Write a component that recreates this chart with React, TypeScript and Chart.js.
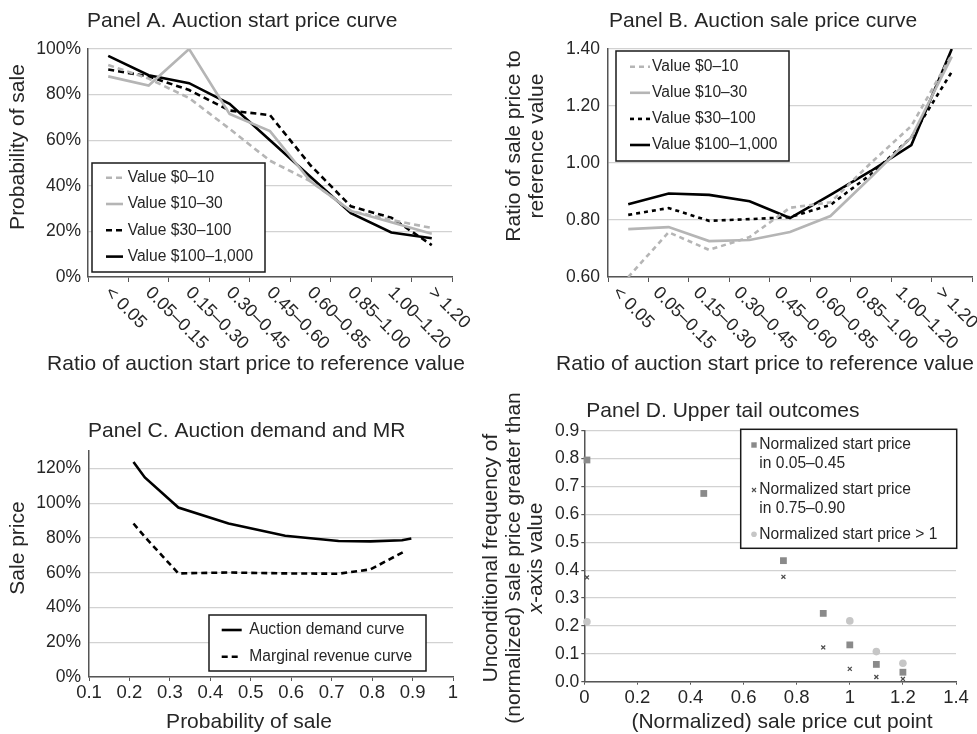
import React, { useEffect, useRef } from 'react';
import { Chart, registerables } from 'chart.js';
Chart.register(...registerables);

const FONT = '"Liberation Sans", Arial, Helvetica, sans-serif';
Chart.defaults.font.family = FONT;
const TEXT = '#262626';
const GRID = '#d2d2d2';
const AXIS = '#555555';
const GRAY = '#b5b5b5';
const BLACK = '#000000';
const TICK_PX = 17.5;
const XTICK_PX = 18.5;
const CAT_PX = 18;
const TITLE_PX = 21;
const LEGEND_PX = 15.6;

// ---------------- data ----------------
const startPriceBins = ['< 0.05', '0.05–0.15', '0.15–0.30', '0.30–0.45', '0.45–0.60', '0.60–0.85', '0.85–1.00', '1.00–1.20', '> 1.20'];
const valueGroups = ['Value $0–10', 'Value $10–30', 'Value $30–100', 'Value $100–1,000'];

// Panel A: probability of sale (%)
const probSale0to10 = [93, 87, 78.5, 65, 51, 42, 29, 25, 21.5];
const probSale10to30 = [88, 84, 100, 71.5, 64, 42, 29, 24, 19];
const probSale30to100 = [91, 88, 82, 73, 71, 49, 31, 26, 14];
const probSale100to1000 = [97, 88.5, 85, 76, 60, 44, 28, 19.5, 17];

// Panel B: ratio of sale price to reference value
const priceRatio0to10 = [0.6, 0.757, 0.695, 0.74, 0.843, 0.862, 1.0, 1.13, 1.38];
const priceRatio10to30 = [0.768, 0.775, 0.726, 0.73, 0.758, 0.814, 0.95, 1.09, 1.373];
const priceRatio30to100 = [0.818, 0.842, 0.797, 0.803, 0.81, 0.853, 0.96, 1.09, 1.32];
const priceRatio100to1000 = [0.855, 0.893, 0.888, 0.866, 0.807, 0.888, 0.972, 1.063, 1.4];

// Panel C: demand and marginal revenue
const demandProb = [0.21, 0.238, 0.321, 0.445, 0.585, 0.717, 0.796, 0.874, 0.897];
const demandPrice = [123.7, 114.8, 97.5, 88.3, 81.2, 78.2, 78.0, 78.7, 79.7];
const mrProb = [0.21, 0.238, 0.321, 0.445, 0.585, 0.717, 0.796, 0.878];
const mrPrice = [88.3, 80.6, 59.6, 60.1, 59.6, 59.4, 61.9, 72.0];
const cNames = ['Auction demand curve', 'Marginal revenue curve'];
const cYTicks = [0, 20, 40, 60, 80, 100, 120];

// Panel D: upper tail outcomes
const dNames = [
  ['Normalized start price', 'in 0.05–0.45'],
  ['Normalized start price', 'in 0.75–0.90'],
  ['Normalized start price > 1'],
];
const cutLow = [0.01, 0.45, 0.75, 0.9, 1.0, 1.1, 1.2];
const freqLow = [0.795, 0.675, 0.434, 0.245, 0.132, 0.062, 0.034];
const cutMid = [0.01, 0.75, 0.9, 1.0, 1.1, 1.2];
const freqMid = [0.374, 0.376, 0.123, 0.046, 0.017, 0.01];
const cutHigh = [0.01, 1.0, 1.1, 1.2];
const freqHigh = [0.215, 0.218, 0.108, 0.066];

// ---------------- helpers ----------------
const fnt = (px: number, italic = false) => `${italic ? 'italic ' : ''}${px}px ${FONT}`;

function txt(ctx: CanvasRenderingContext2D, s: string, x: number, y: number, o: any = {}) {
  ctx.save();
  ctx.translate(x, y);
  if (o.rot) ctx.rotate(o.rot);
  ctx.font = fnt(o.px || TITLE_PX, o.italic);
  ctx.fillStyle = o.color || TEXT;
  ctx.textAlign = o.align || 'left';
  ctx.textBaseline = o.baseline || 'alphabetic';
  ctx.fillText(s, 0, 0);
  ctx.restore();
}

function vText(ctx: CanvasRenderingContext2D, segs: { t: string; italic?: boolean }[], cx: number, cy: number, px = TITLE_PX) {
  ctx.save();
  ctx.translate(cx, cy);
  ctx.rotate(-Math.PI / 2);
  let w = 0;
  segs.forEach((s) => { ctx.font = fnt(px, s.italic); w += ctx.measureText(s.t).width; });
  let x = -w / 2;
  ctx.fillStyle = TEXT;
  ctx.textBaseline = 'middle';
  ctx.textAlign = 'left';
  segs.forEach((s) => { ctx.font = fnt(px, s.italic); ctx.fillText(s.t, x, 0); x += ctx.measureText(s.t).width; });
  ctx.restore();
}

function legendBox(ctx: CanvasRenderingContext2D, x: number, y: number, w: number, h: number) {
  ctx.save();
  ctx.fillStyle = '#ffffff';
  ctx.fillRect(x, y, w, h);
  ctx.strokeStyle = '#1a1a1a';
  ctx.lineWidth = 1.5;
  ctx.strokeRect(x, y, w, h);
  ctx.restore();
}

function lineLegend(ctx: CanvasRenderingContext2D, chart: any, box: number[], sx0: number, sx1: number, tx: number, y0: number, dy: number) {
  legendBox(ctx, box[0], box[1], box[2], box[3]);
  chart.data.datasets.forEach((ds: any, i: number) => {
    const y = y0 + i * dy;
    ctx.save();
    ctx.strokeStyle = ds.borderColor;
    ctx.lineWidth = ds.borderWidth;
    ctx.setLineDash(ds.borderDash || []);
    ctx.beginPath();
    ctx.moveTo(sx0, y);
    ctx.lineTo(sx1, y);
    ctx.stroke();
    ctx.restore();
    txt(ctx, ds.label, tx, y, { px: LEGEND_PX, baseline: 'middle' });
  });
}

type Panel = { left: number; top: number; w: number; h: number; area: number[] };

function layoutOpts(p: Panel) {
  const [L, T, R, B] = p.area;
  return {
    padding: { left: 0, top: T - p.top, right: p.left + p.w - R, bottom: 0 },
    yWidth: L - p.left,
    xHeight: p.top + p.h - B,
  };
}

function decor(p: Panel, draw: (ctx: CanvasRenderingContext2D, chart: any) => void) {
  return {
    id: 'decor',
    afterDraw(chart: any) {
      const ctx = chart.ctx;
      ctx.save();
      ctx.translate(-p.left, -p.top);
      draw(ctx, chart);
      ctx.restore();
    },
  };
}

const lineDs = (label: string, data: any[], color: string, dash: number[]) => ({
  label, data, borderColor: color, backgroundColor: color, borderDash: dash, borderWidth: 2.6,
  pointRadius: 0, fill: false, tension: 0,
});

const baseOpts = (lay: any) => ({
  responsive: false,
  maintainAspectRatio: false,
  animation: false,
  events: [],
  layout: { padding: lay.padding },
  plugins: { legend: { display: false }, title: { display: false }, tooltip: { enabled: false } },
});

const tickFont = { family: FONT, size: TICK_PX };
const xTickFont = { family: FONT, size: XTICK_PX };

// ---------------- panels ----------------
const PA: Panel = { left: 0, top: 0, w: 490, h: 380, area: [88, 49, 452, 277] };
const PB: Panel = { left: 490, top: 0, w: 487, h: 380, area: [608, 49, 972, 277] };
const PC: Panel = { left: 0, top: 380, w: 470, h: 354, area: [89, 451, 453, 677] };
const PD: Panel = { left: 470, top: 380, w: 507, h: 354, area: [584.3, 430.7, 956, 681.7] };

function catLabels(ctx: CanvasRenderingContext2D, chart: any, p: Panel, dx: number) {
  const xs = chart.scales.x;
  startPriceBins.forEach((lab, i) => {
    const px = xs.getPixelForValue(i) + p.left;
    txt(ctx, lab, px + dx, chart.chartArea.bottom + p.top + 13, { px: CAT_PX, rot: Math.PI / 4, baseline: 'middle' });
  });
}

function configA() {
  const lay = layoutOpts(PA);
  return {
    type: 'line',
    data: {
      labels: startPriceBins,
      datasets: [
        lineDs(valueGroups[0], probSale0to10, GRAY, [6, 4]),
        lineDs(valueGroups[1], probSale10to30, GRAY, []),
        lineDs(valueGroups[2], probSale30to100, BLACK, [6, 4]),
        lineDs(valueGroups[3], probSale100to1000, BLACK, []),
      ],
    },
    options: {
      ...baseOpts(lay),
      scales: {
        x: {
          type: 'category', offset: true,
          grid: { display: true, drawOnChartArea: false, drawTicks: true, tickLength: 5, color: AXIS, offset: true },
          border: { color: AXIS, width: 1.5 },
          ticks: { display: false },
          afterFit: (s: any) => { s.height = lay.xHeight; },
        },
        y: {
          min: 0, max: 100,
          ticks: { stepSize: 20, callback: (v: any) => v + '%', padding: 7, font: tickFont, color: TEXT },
          grid: { color: GRID, lineWidth: 1.2, drawTicks: false },
          border: { color: AXIS, width: 1.5 },
          afterFit: (s: any) => { s.width = lay.yWidth; },
        },
      },
    },
    plugins: [decor(PA, (ctx, chart) => {
      const ca = chart.chartArea;
      txt(ctx, 'Panel A. Auction start price curve', ca.left - 1, 27);
      catLabels(ctx, chart, PA, -0.5);
      vText(ctx, [{ t: 'Probability of sale' }], 18.5, 147);
      txt(ctx, 'Ratio of auction start price to reference value', 256, 370, { align: 'center' });
      lineLegend(ctx, chart, [92, 163, 173, 109], 106, 123, 127.7, 177.7, 26.3);
    })],
  };
}

function configB() {
  const lay = layoutOpts(PB);
  return {
    type: 'line',
    data: {
      labels: startPriceBins,
      datasets: [
        lineDs(valueGroups[0], priceRatio0to10, GRAY, [5, 4]),
        lineDs(valueGroups[1], priceRatio10to30, GRAY, []),
        lineDs(valueGroups[2], priceRatio30to100, BLACK, [4, 4]),
        lineDs(valueGroups[3], priceRatio100to1000, BLACK, []),
      ],
    },
    options: {
      ...baseOpts(lay),
      scales: {
        x: {
          type: 'category', offset: true,
          grid: { display: true, drawOnChartArea: false, drawTicks: true, tickLength: 5, color: AXIS, offset: true },
          border: { color: AXIS, width: 1.5 },
          ticks: { display: false },
          afterFit: (s: any) => { s.height = lay.xHeight; },
        },
        y: {
          min: 0.6, max: 1.4,
          ticks: { stepSize: 0.2, callback: (v: any) => Number(v).toFixed(2), padding: 8, font: tickFont, color: TEXT },
          grid: { color: GRID, lineWidth: 1.2, drawTicks: false },
          border: { color: AXIS, width: 1.5 },
          afterFit: (s: any) => { s.width = lay.yWidth; },
        },
      },
    },
    plugins: [decor(PB, (ctx, chart) => {
      const ca = chart.chartArea;
      txt(ctx, 'Panel B. Auction sale price curve', ca.left + PB.left + 1, 27);
      catLabels(ctx, chart, PB, -13);
      vText(ctx, [{ t: 'Ratio of sale price to' }], 514, 146);
      vText(ctx, [{ t: 'reference value' }], 537, 146);
      txt(ctx, 'Ratio of auction start price to reference value', 765, 370, { align: 'center' });
      lineLegend(ctx, chart, [616, 51, 173, 110], 630, 650, 652, 66.7, 26.1);
    })],
  };
}

const roundLabel = (v: any) => String(Math.round(Number(v) * 10) / 10);

function configC() {
  const lay = layoutOpts(PC);
  return {
    type: 'line',
    data: {
      datasets: [
        lineDs(cNames[0], demandProb.map((x, i) => ({ x, y: demandPrice[i] })), BLACK, []),
        lineDs(cNames[1], mrProb.map((x, i) => ({ x, y: mrPrice[i] })), BLACK, [6, 4]),
      ],
    },
    options: {
      ...baseOpts(lay),
      scales: {
        x: {
          type: 'linear', min: 0.1, max: 1,
          ticks: { stepSize: 0.1, callback: roundLabel, padding: 1, font: xTickFont, color: TEXT, maxRotation: 0 },
          grid: { display: true, drawOnChartArea: false, drawTicks: true, tickLength: 4, color: AXIS },
          border: { color: AXIS, width: 1.5 },
          afterFit: (s: any) => { s.height = lay.xHeight; },
        },
        y: {
          min: 0, max: 130, bounds: 'data',
          afterBuildTicks: (s: any) => { s.ticks = cYTicks.map((v) => ({ value: v })); },
          ticks: { callback: (v: any) => v + '%', padding: 8, font: tickFont, color: TEXT },
          grid: { color: GRID, lineWidth: 1.2, drawTicks: false },
          border: { color: AXIS, width: 1.5 },
          afterFit: (s: any) => { s.width = lay.yWidth; },
        },
      },
    },
    plugins: [decor(PC, (ctx, chart) => {
      const ca = chart.chartArea;
      txt(ctx, 'Panel C. Auction demand and MR', ca.left + PC.left - 1, 437);
      vText(ctx, [{ t: 'Sale price' }], 18, 548);
      txt(ctx, 'Probability of sale', 249, 728, { align: 'center' });
      lineLegend(ctx, chart, [209, 615, 217, 56], 221.7, 241.7, 249.3, 630, 26.7);
    })],
  };
}

function drawMarker(ctx: CanvasRenderingContext2D, kind: string, x: number, y: number, color: string) {
  ctx.save();
  ctx.fillStyle = color;
  ctx.strokeStyle = color;
  if (kind === 'rect') {
    ctx.fillRect(x - 2.7, y - 2.7, 5.4, 5.4);
  } else if (kind === 'crossRot') {
    ctx.lineWidth = 1.1;
    ctx.beginPath();
    ctx.moveTo(x - 2, y - 2); ctx.lineTo(x + 2, y + 2);
    ctx.moveTo(x + 2, y - 2); ctx.lineTo(x - 2, y + 2);
    ctx.stroke();
  } else {
    ctx.beginPath();
    ctx.arc(x, y, 2.8, 0, Math.PI * 2);
    ctx.fill();
  }
  ctx.restore();
}

function configD() {
  const lay = layoutOpts(PD);
  const sq = '#8a8a8a', cr = '#4d4d4d', ci = '#c6c6c6';
  return {
    type: 'scatter',
    data: {
      datasets: [
        { label: dNames[0].join(' '), data: cutLow.map((x, i) => ({ x, y: freqLow[i] })), pointStyle: 'rect', pointRadius: 4.8, backgroundColor: sq, borderColor: sq, borderWidth: 0, clip: false },
        { label: dNames[1].join(' '), data: cutMid.map((x, i) => ({ x, y: freqMid[i] })), pointStyle: 'crossRot', pointRadius: 2.8, backgroundColor: cr, borderColor: cr, borderWidth: 1.3, clip: false },
        { label: dNames[2].join(' '), data: cutHigh.map((x, i) => ({ x, y: freqHigh[i] })), pointStyle: 'circle', pointRadius: 3.8, backgroundColor: ci, borderColor: ci, borderWidth: 0, clip: false },
      ],
    },
    options: {
      ...baseOpts(lay),
      scales: {
        x: {
          type: 'linear', min: 0, max: 1.4,
          ticks: { stepSize: 0.2, callback: roundLabel, padding: 2, font: xTickFont, color: TEXT, maxRotation: 0 },
          grid: { display: true, drawOnChartArea: false, drawTicks: true, tickLength: 3, color: AXIS },
          border: { color: AXIS, width: 1.5 },
          afterFit: (s: any) => { s.height = lay.xHeight; },
        },
        y: {
          min: 0, max: 0.9,
          ticks: { stepSize: 0.1, callback: (v: any) => Number(v).toFixed(1), padding: 2, font: tickFont, color: TEXT },
          grid: { color: GRID, lineWidth: 1.2, drawTicks: true, tickLength: 3, tickColor: AXIS },
          border: { color: AXIS, width: 1.5 },
          afterFit: (s: any) => { s.width = lay.yWidth; },
        },
      },
    },
    plugins: [decor(PD, (ctx, chart) => {
      const ca = chart.chartArea;
      txt(ctx, 'Panel D. Upper tail outcomes', ca.left + PD.left + 2, 416.7);
      vText(ctx, [{ t: 'Unconditional frequency of' }], 491.5, 558);
      vText(ctx, [{ t: '(normalized) sale price greater than' }], 514, 558);
      vText(ctx, [{ t: 'x', italic: true }, { t: '-axis value' }], 536.5, 558);
      txt(ctx, '(Normalized) sale price cut point', 782, 728, { align: 'center' });
      legendBox(ctx, 740.7, 429.3, 216, 119);
      const kinds = ['rect', 'crossRot', 'circle'];
      const cols = [sq, cr, ci];
      const rowY = [445, 490, 534.3];
      dNames.forEach((lines, i) => {
        drawMarker(ctx, kinds[i], 754, rowY[i], cols[i]);
        lines.forEach((ln, j) => txt(ctx, ln, 759.3, rowY[i] + j * 18.3, { px: LEGEND_PX, baseline: 'middle' }));
      });
    })],
  };
}

function ChartCanvas({ p, make }: { p: Panel; make: () => any }) {
  const ref = useRef<HTMLCanvasElement | null>(null);
  useEffect(() => {
    const chart = new Chart(ref.current as HTMLCanvasElement, make());
    return () => chart.destroy();
  }, []);
  return (
    <canvas
      ref={ref}
      width={p.w}
      height={p.h}
      style={{ position: 'absolute', left: p.left, top: p.top, width: p.w, height: p.h }}
    />
  );
}

export default function App() {
  return (
    <div style={{ position: 'absolute', left: 0, top: 0, width: 977, height: 734, background: '#ffffff', overflow: 'hidden' }}>
      <ChartCanvas p={PA} make={configA} />
      <ChartCanvas p={PB} make={configB} />
      <ChartCanvas p={PC} make={configC} />
      <ChartCanvas p={PD} make={configD} />
    </div>
  );
}
